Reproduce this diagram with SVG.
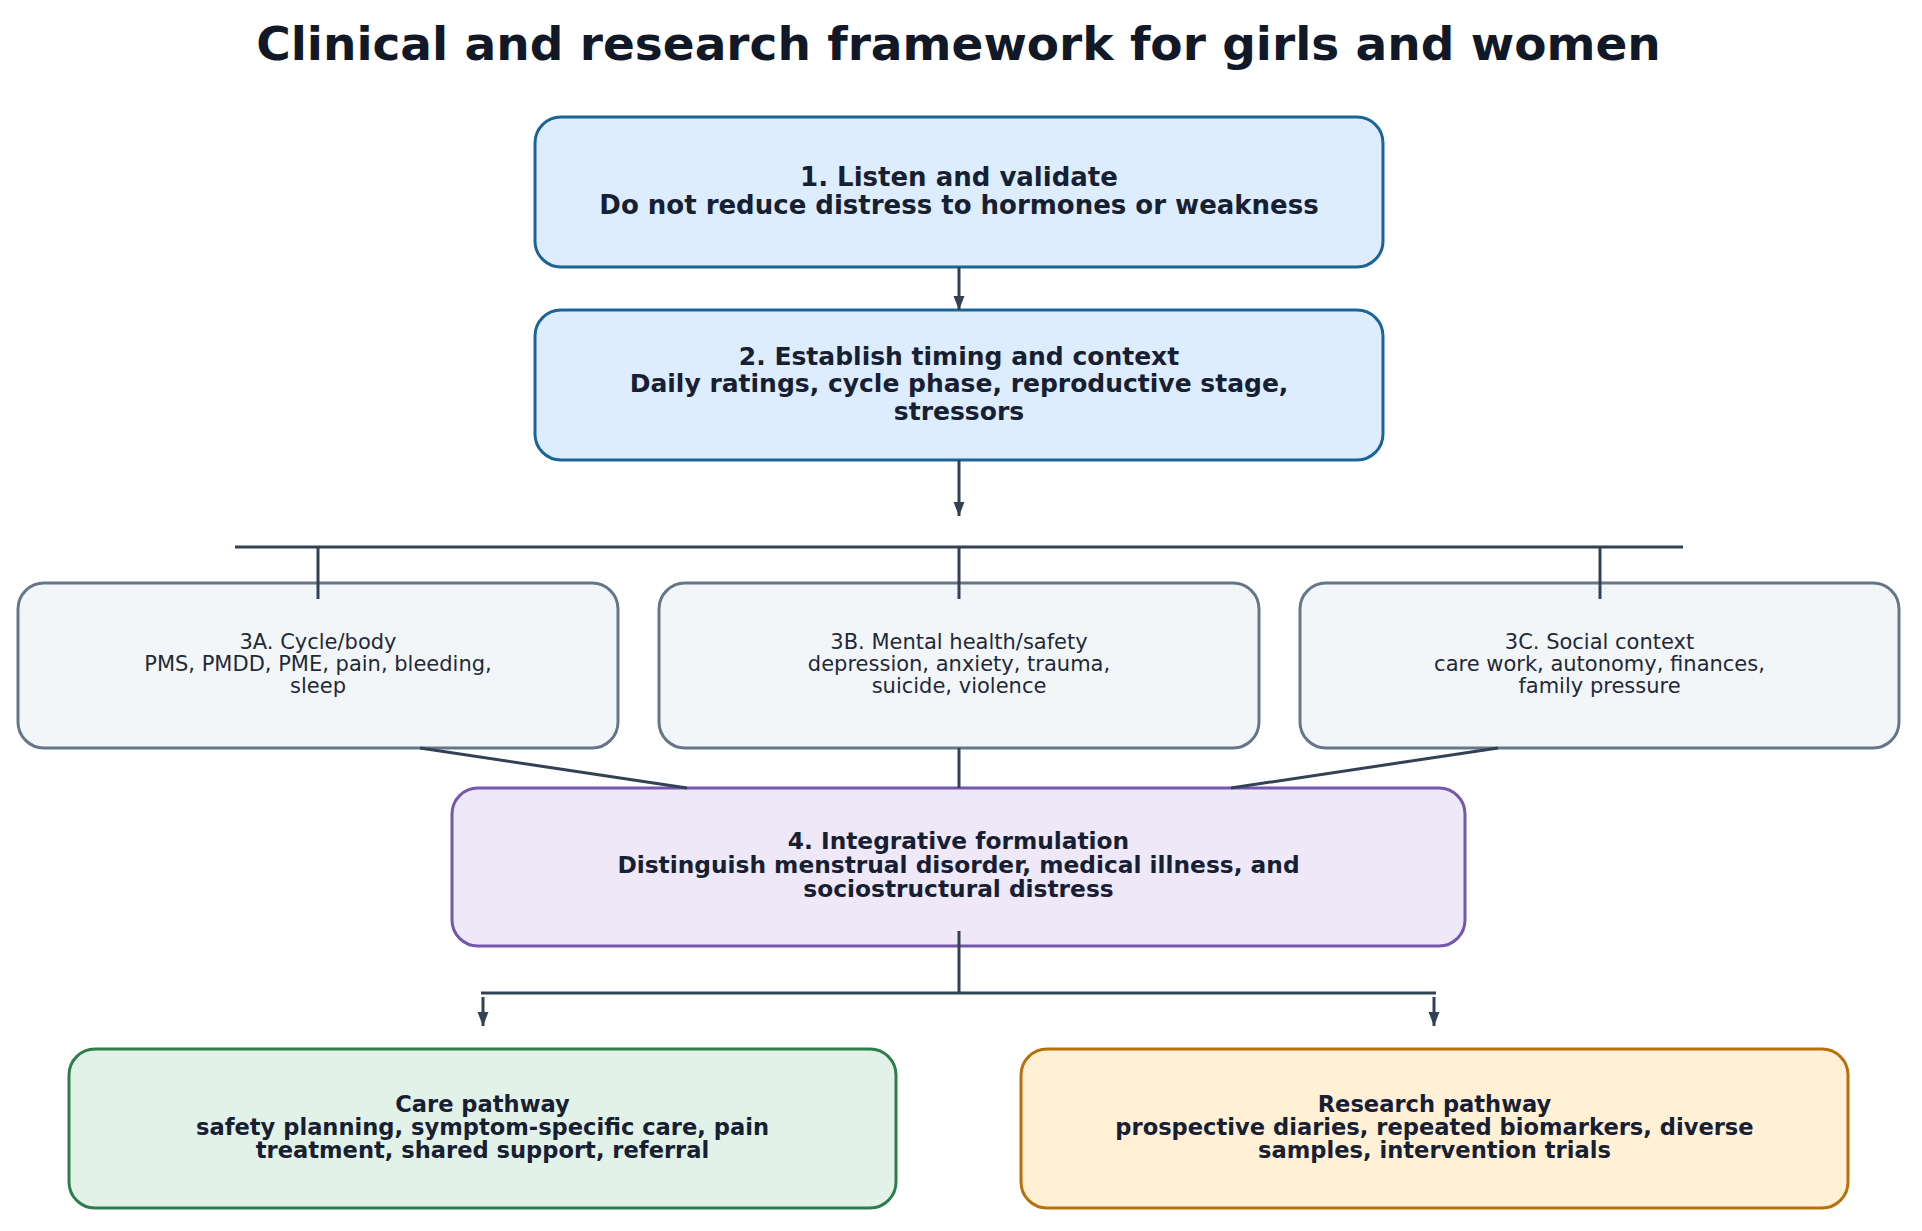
<svg xmlns="http://www.w3.org/2000/svg" width="1922" height="1231" viewBox="0 0 1922 1231">
  <defs>
    <marker id="arr" markerUnits="userSpaceOnUse" markerWidth="14" markerHeight="14" viewBox="0 0 14 14" refX="14" refY="7" orient="auto">
      <path d="M0,1.5 L14,7 L0,12.5 z" fill="#334155"/>
    </marker>
    <style>
      .title { font-family: "DejaVu Sans", sans-serif; font-weight: bold; font-size: 47px; fill: #111827; text-anchor: middle; }
      .bt { font-family: "DejaVu Sans", sans-serif; font-weight: bold; fill: #172033; text-anchor: middle; }
      .st { font-family: "DejaVu Sans", sans-serif; font-size: 21px; fill: #1f2937; text-anchor: middle; }
      .blue { fill: #ddedfd; stroke: #1b6497; stroke-width: 3; }
      .gray { fill: #f3f6f9; stroke: #66768a; stroke-width: 3; }
      .purple { fill: #efe8f8; stroke: #7356ad; stroke-width: 3; }
      .green { fill: #e3f2e8; stroke: #2e7d4e; stroke-width: 3; }
      .orange { fill: #fff0d6; stroke: #b8700c; stroke-width: 3; }
      .conn { stroke: #334155; stroke-width: 3; fill: none; }
    </style>
  </defs>
  <rect width="1922" height="1231" fill="#ffffff"/>
  <text class="title" x="958.5" y="60">Clinical and research framework for girls and women</text>

  <g id="n1">
    <rect class="blue" x="535" y="117" width="848" height="150" rx="26"/>
    <text class="bt" font-size="26" x="959" y="186">1. Listen and validate</text>
    <text class="bt" font-size="26" x="959" y="214">Do not reduce distress to hormones or weakness</text>
  </g>
  <g id="n2">
    <rect class="blue" x="535" y="310" width="848" height="150" rx="26"/>
    <text class="bt" font-size="25" x="959" y="365">2. Establish timing and context</text>
    <text class="bt" font-size="25" x="959" y="392.3">Daily ratings, cycle phase, reproductive stage,</text>
    <text class="bt" font-size="25" x="959" y="419.5">stressors</text>
  </g>
  <g id="n3a">
    <rect class="gray" x="18" y="583" width="600" height="165" rx="26"/>
    <text class="st" x="318" y="648.7">3A. Cycle/body</text>
    <text class="st" x="318" y="671">PMS, PMDD, PME, pain, bleeding,</text>
    <text class="st" x="318" y="693.3">sleep</text>
  </g>
  <g id="n3b">
    <rect class="gray" x="659" y="583" width="600" height="165" rx="26"/>
    <text class="st" x="959" y="648.7">3B. Mental health/safety</text>
    <text class="st" x="959" y="671">depression, anxiety, trauma,</text>
    <text class="st" x="959" y="693.3">suicide, violence</text>
  </g>
  <g id="n3c">
    <rect class="gray" x="1300" y="583" width="599" height="165" rx="26"/>
    <text class="st" x="1599.5" y="648.7">3C. Social context</text>
    <text class="st" x="1599.5" y="671">care work, autonomy, finances,</text>
    <text class="st" x="1599.5" y="693.3">family pressure</text>
  </g>
  <g id="n4">
    <rect class="purple" x="452" y="788" width="1013" height="158" rx="26"/>
    <text class="bt" font-size="23.3" x="958.5" y="848.5">4. Integrative formulation</text>
    <text class="bt" font-size="23.3" x="958.5" y="872.7">Distinguish menstrual disorder, medical illness, and</text>
    <text class="bt" font-size="23.3" x="958.5" y="896.9">sociostructural distress</text>
  </g>
  <g id="n5">
    <rect class="green" x="69" y="1049" width="827" height="159" rx="26"/>
    <text class="bt" font-size="22.6" x="482.5" y="1111.7">Care pathway</text>
    <text class="bt" font-size="22.6" x="482.5" y="1135">safety planning, symptom-specific care, pain</text>
    <text class="bt" font-size="22.6" x="482.5" y="1158.3">treatment, shared support, referral</text>
  </g>
  <g id="n6">
    <rect class="orange" x="1021" y="1049" width="827" height="159" rx="26"/>
    <text class="bt" font-size="22.6" x="1434.5" y="1111.7">Research pathway</text>
    <text class="bt" font-size="22.6" x="1434.5" y="1135">prospective diaries, repeated biomarkers, diverse</text>
    <text class="bt" font-size="22.6" x="1434.5" y="1158.3">samples, intervention trials</text>
  </g>

  <g id="connectors">
    <line class="conn" x1="959" y1="267" x2="959" y2="310" marker-end="url(#arr)"/>
    <line class="conn" x1="959" y1="460" x2="959" y2="516" marker-end="url(#arr)"/>
    <line class="conn" x1="235" y1="547" x2="1683" y2="547"/>
    <line class="conn" x1="318" y1="547" x2="318" y2="599"/>
    <line class="conn" x1="959" y1="547" x2="959" y2="599"/>
    <line class="conn" x1="1600" y1="547" x2="1600" y2="599"/>
    <line class="conn" x1="420" y1="748" x2="687" y2="788"/>
    <line class="conn" x1="959" y1="748" x2="959" y2="788"/>
    <line class="conn" x1="1498" y1="748" x2="1231" y2="788"/>
    <line class="conn" x1="959" y1="931" x2="959" y2="993"/>
    <line class="conn" x1="481" y1="993" x2="1436" y2="993"/>
    <line class="conn" x1="483" y1="997" x2="483" y2="1026" marker-end="url(#arr)"/>
    <line class="conn" x1="1434" y1="997" x2="1434" y2="1026" marker-end="url(#arr)"/>
  </g>
</svg>
